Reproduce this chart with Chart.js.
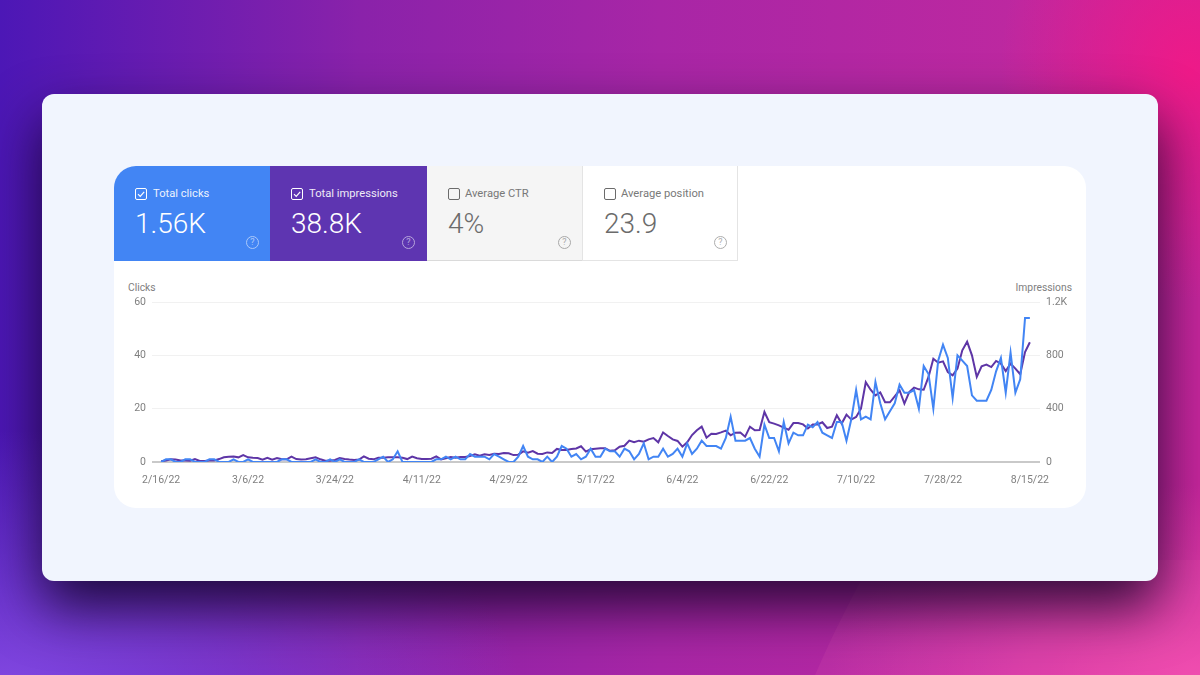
<!DOCTYPE html>
<html>
<head>
<meta charset="utf-8">
<script src="https://cdn.jsdelivr.net/npm/chart.js@4/dist/chart.umd.min.js"></script>
<style>
html, body { margin: 0; padding: 0; }
body {
  width: 1200px; height: 675px; overflow: hidden; position: relative;
  font-family: Roboto, sans-serif;
  background:
    radial-gradient(ellipse 190px 230px at 1190px 70px, rgba(240,25,135,.95), rgba(240,25,135,0) 100%),
    radial-gradient(ellipse 380px 190px at 1200px 675px, rgba(240,75,175,.95), rgba(240,75,175,0) 100%),
    radial-gradient(ellipse 520px 260px at 0px 690px, rgba(130,72,225,1), rgba(130,72,225,0) 100%),
    linear-gradient(90deg, #4c17b6 0%, #8a22aa 30%, #a826a6 55%, #bd28a0 85%, #c7269c 100%);
}
#shape { position: absolute; left: 0; top: 0; }
#card {
  position: absolute; left: 42px; top: 94px; width: 1116px; height: 487px;
  background: #f1f5fe; border-radius: 12px;
  box-shadow: 0 26px 55px rgba(10,0,30,.82);
}
#panel {
  position: absolute; left: 114px; top: 166px; width: 972px; height: 342px;
  background: #fff; border-radius: 22px;
}
.tile { position: absolute; top: 166px; height: 95px; box-sizing: border-box; color: #fff; }
.tile .name { position: absolute; left: 39px; top: 21px; font-size: 11.2px; line-height: 14px; opacity: .9; white-space: nowrap; }
.tile .val { position: absolute; left: 21px; top: 41px; font-size: 28px; line-height: 34px; font-weight: 300; }
.tile .box {
  position: absolute; left: 21px; top: 22px; width: 12px; height: 12px;
  box-sizing: border-box; border: 1.5px solid currentColor; border-radius: 2px;
}
.tile .box svg { position: absolute; left: -1px; top: -1px; }
.tile .help {
  position: absolute; left: 132px; top: 70px; width: 13px; height: 13px; box-sizing: border-box;
  border: 1px solid currentColor; border-radius: 50%; font-size: 9px; line-height: 11px;
  text-align: center; opacity: .55;
}
#t1 { left: 114px; width: 156px; background: #4285f4; border-top-left-radius: 22px; }
#t2 { left: 270px; width: 157px; background: #5e35b1; }
#t3 { left: 427px; width: 155px; background: #f5f5f5; color: #6b6b6b; border-bottom: 1px solid #dadada; }
#t4 { left: 582px; width: 156px; background: #fff; color: #6b6b6b; border: 1px solid #e4e4e4; border-top: 0; }
#t3 .name { left: 38px; } #t3 .help { left: 131px; }
#t4 .name { left: 38px; } #t4 .val { left: 21px; } #t4 .box { left: 21px; } #t4 .help { left: 131px; }
.axis-name { position: absolute; top: 281px; font-size: 10.3px; line-height: 13px; color: #808080; }
#chartWrap { position: absolute; left: 114px; top: 270px; width: 972px; height: 230px; }
</style>
</head>
<body>
<svg id="shape" width="1200" height="675">
  <path d="M872 560 C 850 600 830 640 815 675 L1200 675 L1200 560 Z" fill="rgba(255,120,190,.10)"/>
</svg>
<div id="card"></div>
<div id="panel"></div>

<div class="tile" id="t1">
  <div class="box"><svg width="12" height="12"><path d="M3 6.2 L5.2 8.4 L9.2 3.8" fill="none" stroke="#fff" stroke-width="1.2"/></svg></div>
  <div class="name">Total clicks</div><div class="val">1.56K</div><div class="help">?</div>
</div>
<div class="tile" id="t2">
  <div class="box"><svg width="12" height="12"><path d="M3 6.2 L5.2 8.4 L9.2 3.8" fill="none" stroke="#fff" stroke-width="1.2"/></svg></div>
  <div class="name">Total impressions</div><div class="val">38.8K</div><div class="help">?</div>
</div>
<div class="tile" id="t3">
  <div class="box"></div>
  <div class="name">Average CTR</div><div class="val">4%</div><div class="help">?</div>
</div>
<div class="tile" id="t4">
  <div class="box"></div>
  <div class="name">Average position</div><div class="val">23.9</div><div class="help">?</div>
</div>

<div class="axis-name" style="left:128px">Clicks</div>
<div class="axis-name" style="right:128px">Impressions</div>
<div id="chartWrap"><canvas id="gsc_Chart"></canvas></div>

<script>
// daily values, 2/16/22 to 8/15/22
const clicks = [
  0,1,1,0,0,1,1,0,0,0,
  1,1,0,0,0,1,0,0,1,0,
  0,0,0,0,0,1,1,0,0,0,
  0,0,1,0,0,1,0,1,0,0,
  0,1,0,0,0,1,2,0,1,4,
  0,0,0,0,0,0,0,1,1,2,
  1,2,1,1,3,2,2,2,1,3,
  2,1,0,0,2,6,2,1,1,0,
  2,0,2,6,5,2,3,1,2,5,
  2,2,5,4,4,2,5,4,1,3,
  7,1,2,2,5,2,3,5,2,7,
  3,5,8,6,6,6,5,9,17,8,
  8,8,9,5,2,14,9,9,4,15,
  7,11,10,10,14,13,15,11,10,9,
  15,15,8,16,27,16,17,16,30,22,
  16,19,22,29,26,26,27,20,36,33,
  20,38,44,39,24,40,38,36,25,23,
  23,23,27,34,39,26,41,26,31,54,54
];
const impressions = [
  5,12,20,18,12,12,10,22,8,8,
  12,12,22,35,40,42,35,52,35,32,
  30,18,32,18,30,20,20,40,22,18,
  20,28,35,20,10,10,15,30,22,18,
  15,18,42,25,20,32,32,35,35,35,
  32,22,40,28,22,22,25,42,20,28,
  38,32,38,38,45,58,48,58,52,62,
  60,68,65,52,55,80,70,82,62,60,
  72,68,98,90,90,98,102,118,78,95,
  100,104,104,84,88,115,122,160,148,160,
  152,170,180,148,222,195,170,158,115,148,
  202,238,265,182,212,210,222,235,200,220,
  222,190,265,238,240,375,298,288,275,258,
  242,292,292,282,252,282,282,298,255,265,
  350,288,355,318,338,400,598,542,500,522,
  448,448,492,538,438,525,558,545,542,638,
  775,745,755,675,650,700,838,902,800,638,
  718,730,712,758,738,682,738,700,658,825,898
];
const date_labels = ['2/16/22','3/6/22','3/24/22','4/11/22','4/29/22','5/17/22','6/4/22','6/22/22','7/10/22','7/28/22','8/15/22'];
const date_days = [0,18,36,54,72,90,108,126,144,162,180];
const clicks_ticks = [0,20,40,60];
const impressions_ticks = [0,400,800,1200];

const tick_color = '#808080';
const tick_font = { family: 'Roboto', size: 10.5 };

function toPoints(values) {
  return values.map((v, i) => ({ x: i, y: v }));
}
function useTicks(list) {
  return axis => { axis.ticks = list.map(v => ({ value: v })); };
}

let ctx = document.getElementById('gsc_Chart');
let graphData = {
  type: 'line',
  data: {
    datasets: [
      {
        label: 'Clicks',
        data: toPoints(clicks),
        borderColor: '#4285f4',
        borderWidth: 2,
        pointRadius: 0,
        tension: 0,
        yAxisID: 'y',
      },
      {
        label: 'Impressions',
        data: toPoints(impressions),
        borderColor: '#5e35a6',
        borderWidth: 2,
        pointRadius: 0,
        tension: 0,
        yAxisID: 'y2',
      },
    ]
  },
  options: {
    responsive: true,
    maintainAspectRatio: false,
    animation: false,
    layout: { padding: { top: 32, left: 0, right: 0, bottom: 0 } },
    plugins: { legend: { display: false }, tooltip: { enabled: false } },
    scales: {
      x: {
        type: 'linear',
        min: -1.9,
        max: 182.1,
        afterBuildTicks: useTicks(date_days),
        afterFit: s => { s.height = 38; },
        border: { display: false },
        grid: { display: false, drawTicks: false },
        ticks: {
          autoSkip: false,
          maxRotation: 0,
          padding: 12,
          color: tick_color,
          font: tick_font,
          callback: v => date_labels[date_days.indexOf(v)],
        },
      },
      y: {
        position: 'left',
        min: 0,
        max: 60,
        afterBuildTicks: useTicks(clicks_ticks),
        afterFit: s => { s.width = 38; },
        border: { display: false },
        grid: {
          drawTicks: false,
          color: c => c.tick.value === 0 ? '#c9c9c9' : '#f1f1f1',
          lineWidth: c => c.tick.value === 0 ? 2 : 1,
        },
        ticks: { padding: 6, color: tick_color, font: tick_font },
      },
      y2: {
        position: 'right',
        min: 0,
        max: 1200,
        afterBuildTicks: useTicks(impressions_ticks),
        afterFit: s => { s.width = 46; },
        border: { display: false },
        grid: { display: false, drawTicks: false },
        ticks: {
          padding: 6,
          color: tick_color,
          font: tick_font,
          callback: v => v >= 1000 ? (v / 1000) + 'K' : v,
        },
      },
    },
  }
};

let gsc_Chart = new Chart(ctx, graphData);
</script>
</body>
</html>
